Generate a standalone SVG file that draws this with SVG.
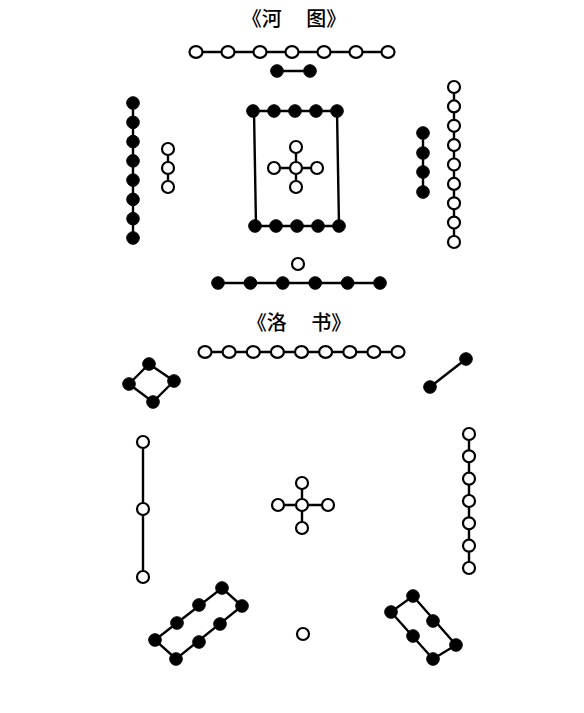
<svg xmlns="http://www.w3.org/2000/svg" width="584" height="713" viewBox="0 0 584 713">
<style>
.w{fill:#fff;stroke:#000;stroke-width:2.2}
.b{fill:#000;stroke:#000;stroke-width:1}
.l{stroke:#000;stroke-width:2.4;fill:none}
.t{font-family:"Noto Sans CJK SC","Liberation Serif",serif;font-size:20px;font-weight:500;fill:#000;text-anchor:middle}
</style>
<rect width="584" height="713" fill="#fff"/>
<text class="t" x="294" y="26" xml:space="preserve">《河　 图》</text>
<text class="t" x="299" y="330" xml:space="preserve">《洛　 书》</text>
<g id="connectors">
<line class="l" x1="196" y1="52" x2="388" y2="52"/>
<line class="l" x1="277" y1="71" x2="310" y2="71"/>
<line class="l" x1="133" y1="103" x2="133" y2="238"/>
<line class="l" x1="168" y1="149" x2="168" y2="187"/>
<line class="l" x1="253" y1="111" x2="336" y2="111"/>
<line class="l" x1="253" y1="226" x2="336" y2="226"/>
<line class="l" x1="254" y1="111" x2="256" y2="226"/>
<line class="l" x1="337" y1="111" x2="339" y2="226"/>
<line class="l" x1="274" y1="168" x2="317" y2="168"/>
<line class="l" x1="296" y1="147" x2="296" y2="187"/>
<line class="l" x1="423" y1="133" x2="423" y2="192"/>
<line class="l" x1="454" y1="87" x2="454" y2="242"/>
<line class="l" x1="218" y1="283" x2="380" y2="283"/>
<line class="l" x1="205" y1="352" x2="398" y2="352"/>
<polygon class="l" points="149,364 174,381 153,402 129,384"/>
<line class="l" x1="466" y1="359" x2="430" y2="387"/>
<line class="l" x1="143" y1="442" x2="143" y2="577"/>
<line class="l" x1="469" y1="434" x2="469" y2="568"/>
<line class="l" x1="278" y1="505" x2="328" y2="505"/>
<line class="l" x1="302" y1="483" x2="302" y2="528"/>
<polygon class="l" points="155,640 222,588 242,606 176,659"/>
<polygon class="l" points="391,612 413,596 456,645 433,659"/>
</g>
<g id="hetu-top-7">
<ellipse class="w" cx="196" cy="52" rx="6.5" ry="5.8"/><ellipse class="w" cx="228" cy="52" rx="6.5" ry="5.8"/><ellipse class="w" cx="260" cy="52" rx="6.5" ry="5.8"/><ellipse class="w" cx="292" cy="52" rx="6.5" ry="5.8"/><ellipse class="w" cx="324" cy="52" rx="6.5" ry="5.8"/><ellipse class="w" cx="356" cy="52" rx="6.5" ry="5.8"/><ellipse class="w" cx="388" cy="52" rx="6.5" ry="5.8"/>
</g>
<g id="hetu-top-2">
<circle class="b" cx="277" cy="71" r="6.3"/><circle class="b" cx="310" cy="71" r="6.3"/>
</g>
<g id="hetu-left-8">
<circle class="b" cx="133" cy="103" r="6.3"/><circle class="b" cx="133" cy="122.3" r="6.3"/><circle class="b" cx="133" cy="141.6" r="6.3"/><circle class="b" cx="133" cy="160.9" r="6.3"/><circle class="b" cx="133" cy="180.1" r="6.3"/><circle class="b" cx="133" cy="199.4" r="6.3"/><circle class="b" cx="133" cy="218.7" r="6.3"/><circle class="b" cx="133" cy="238" r="6.3"/>
</g>
<g id="hetu-left-3">
<circle class="w" cx="168" cy="149" r="6"/><circle class="w" cx="168" cy="168" r="6"/><circle class="w" cx="168" cy="187" r="6"/>
</g>
<g id="hetu-center-10">
<circle class="b" cx="253" cy="111" r="6.3"/><circle class="b" cx="274" cy="111" r="6.3"/><circle class="b" cx="295" cy="111" r="6.3"/><circle class="b" cx="316" cy="111" r="6.3"/><circle class="b" cx="337" cy="111" r="6.3"/>
<circle class="b" cx="255" cy="226" r="6.3"/><circle class="b" cx="276" cy="226" r="6.3"/><circle class="b" cx="297" cy="226" r="6.3"/><circle class="b" cx="318" cy="226" r="6.3"/><circle class="b" cx="339" cy="226" r="6.3"/>
</g>
<g id="hetu-center-5">
<circle class="w" cx="296" cy="147" r="6"/><circle class="w" cx="274" cy="168" r="6"/><circle class="w" cx="296" cy="168" r="6"/><circle class="w" cx="317" cy="168" r="6"/><circle class="w" cx="296" cy="187" r="6"/>
</g>
<g id="hetu-right-4">
<circle class="b" cx="423" cy="133" r="6.3"/><circle class="b" cx="423" cy="153" r="6.3"/><circle class="b" cx="423" cy="172" r="6.3"/><circle class="b" cx="423" cy="192" r="6.3"/>
</g>
<g id="hetu-right-9">
<circle class="w" cx="454" cy="87" r="6"/><circle class="w" cx="454" cy="106.4" r="6"/><circle class="w" cx="454" cy="125.8" r="6"/><circle class="w" cx="454" cy="145.1" r="6"/><circle class="w" cx="454" cy="164.5" r="6"/><circle class="w" cx="454" cy="183.9" r="6"/><circle class="w" cx="454" cy="203.3" r="6"/><circle class="w" cx="454" cy="222.6" r="6"/><circle class="w" cx="454" cy="242" r="6"/>
</g>
<g id="hetu-bottom-1">
<circle class="w" cx="298" cy="264" r="6"/>
</g>
<g id="hetu-bottom-6">
<circle class="b" cx="218" cy="283" r="6.3"/><circle class="b" cx="250.4" cy="283" r="6.3"/><circle class="b" cx="282.8" cy="283" r="6.3"/><circle class="b" cx="315.2" cy="283" r="6.3"/><circle class="b" cx="347.6" cy="283" r="6.3"/><circle class="b" cx="380" cy="283" r="6.3"/>
</g>
<g id="luoshu-top-9">
<ellipse class="w" cx="205" cy="352" rx="6.5" ry="5.8"/><ellipse class="w" cx="229.1" cy="352" rx="6.5" ry="5.8"/><ellipse class="w" cx="253.3" cy="352" rx="6.5" ry="5.8"/><ellipse class="w" cx="277.4" cy="352" rx="6.5" ry="5.8"/><ellipse class="w" cx="301.5" cy="352" rx="6.5" ry="5.8"/><ellipse class="w" cx="325.6" cy="352" rx="6.5" ry="5.8"/><ellipse class="w" cx="349.8" cy="352" rx="6.5" ry="5.8"/><ellipse class="w" cx="373.9" cy="352" rx="6.5" ry="5.8"/><ellipse class="w" cx="398" cy="352" rx="6.5" ry="5.8"/>
</g>
<g id="luoshu-topleft-4">
<circle class="b" cx="149" cy="364" r="6.3"/><circle class="b" cx="174" cy="381" r="6.3"/><circle class="b" cx="153" cy="402" r="6.3"/><circle class="b" cx="129" cy="384" r="6.3"/>
</g>
<g id="luoshu-topright-2">
<circle class="b" cx="466" cy="359" r="6.3"/><circle class="b" cx="430" cy="387" r="6.3"/>
</g>
<g id="luoshu-left-3">
<circle class="w" cx="143" cy="442" r="6"/><circle class="w" cx="143" cy="509" r="6"/><circle class="w" cx="143" cy="577" r="6"/>
</g>
<g id="luoshu-right-7">
<circle class="w" cx="469" cy="434" r="6"/><circle class="w" cx="469" cy="456.3" r="6"/><circle class="w" cx="469" cy="478.7" r="6"/><circle class="w" cx="469" cy="501" r="6"/><circle class="w" cx="469" cy="523.3" r="6"/><circle class="w" cx="469" cy="545.7" r="6"/><circle class="w" cx="469" cy="568" r="6"/>
</g>
<g id="luoshu-center-5">
<circle class="w" cx="302" cy="483" r="6"/><circle class="w" cx="278" cy="505" r="6"/><circle class="w" cx="302" cy="505" r="6"/><circle class="w" cx="328" cy="505" r="6"/><circle class="w" cx="302" cy="528" r="6"/>
</g>
<g id="luoshu-bottomleft-8">
<circle class="b" cx="222" cy="588" r="6.3"/><circle class="b" cx="242" cy="606" r="6.3"/><circle class="b" cx="199" cy="605" r="6.3"/><circle class="b" cx="177" cy="623" r="6.3"/><circle class="b" cx="155" cy="640" r="6.3"/><circle class="b" cx="176" cy="659" r="6.3"/><circle class="b" cx="220" cy="624" r="6.3"/><circle class="b" cx="199" cy="642" r="6.3"/>
</g>
<g id="luoshu-bottom-1">
<circle class="w" cx="303" cy="634" r="6"/>
</g>
<g id="luoshu-bottomright-6">
<circle class="b" cx="413" cy="596" r="6.3"/><circle class="b" cx="391" cy="612" r="6.3"/><circle class="b" cx="433" cy="621" r="6.3"/><circle class="b" cx="413" cy="636" r="6.3"/><circle class="b" cx="456" cy="645" r="6.3"/><circle class="b" cx="433" cy="659" r="6.3"/>
</g>
</svg>
